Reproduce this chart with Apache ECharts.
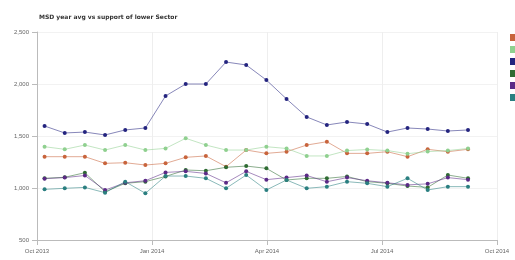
<!DOCTYPE html>
<html>
<head>
<meta charset="utf-8">
<script src="https://cdn.jsdelivr.net/npm/echarts@6/dist/echarts.min.js"></script>
<style>
  html, body { margin: 0; padding: 0; background: #fff; }
  #chart { width: 515px; height: 260px; }
</style>
</head>
<body>
<div id="chart"></div>
<script>
var titleText = 'MSD year avg vs support of lower Sector';
var startDate = '2013-10-01';
var tickLabels = ['Oct 2013', 'Jan 2014', 'Apr 2014', 'Jul 2014', 'Oct 2014'];

var dates = [
  '2013-10-07', '2013-10-23', '2013-11-08', '2013-11-24', '2013-12-10', '2013-12-26',
  '2014-01-11', '2014-01-27', '2014-02-12', '2014-02-28', '2014-03-16', '2014-04-01',
  '2014-04-17', '2014-05-03', '2014-05-19', '2014-06-04', '2014-06-20', '2014-07-06',
  '2014-07-22', '2014-08-07', '2014-08-23', '2014-09-08'
];

var seriesNames = ['Series A', 'Series B', 'Series C', 'Series D', 'Series E', 'Series F'];
var seriesColors = ['#c8643c', '#8fd08f', '#24247f', '#2e6b32', '#5b2a86', '#2a7f80'];

var orangeValues = [1301, 1301, 1301, 1237, 1243, 1221, 1237, 1295, 1308, 1205, 1365, 1333,
  1349, 1413, 1445, 1333, 1333, 1349, 1301, 1372, 1349, 1372];
var greenValues = [1397, 1372, 1413, 1365, 1413, 1365, 1381, 1478, 1413, 1365, 1365, 1397,
  1380, 1308, 1308, 1360, 1370, 1360, 1330, 1350, 1360, 1380];
var navyValues = [1596, 1529, 1538, 1510, 1558, 1577, 1885, 2000, 2000, 2211, 2183, 2038,
  1856, 1683, 1606, 1635, 1615, 1538, 1577, 1567, 1548, 1558];
var darkGreenValues = [1093, 1103, 1147, 964, 1045, 1061, 1111, 1173, 1166, 1199, 1211, 1189,
  1077, 1093, 1093, 1111, 1061, 1045, 1019, 1006, 1125, 1093];
var purpleValues = [1090, 1100, 1120, 980, 1050, 1070, 1150, 1160, 1140, 1050, 1160, 1080,
  1100, 1120, 1060, 1100, 1070, 1050, 1030, 1040, 1100, 1080];
var tealValues = [987, 997, 1006, 955, 1061, 949, 1115, 1115, 1093, 997, 1125, 981,
  1077, 997, 1013, 1061, 1045, 1013, 1093, 981, 1013, 1013];

var allValues = [orangeValues, greenValues, navyValues, darkGreenValues, purpleValues, tealValues];

var DAY = 86400000;
var QUARTER = 365 / 4;
function dayOffset(d) {
  return (Date.parse(d) - Date.parse(startDate)) / DAY;
}

var chart = echarts.init(document.getElementById('chart'));

var series = seriesNames.map(function (name, i) {
  return {
    name: name,
    type: 'line',
    data: dates.map(function (d, j) { return [dayOffset(d), allValues[i][j]]; }),
    symbol: 'circle',
    symbolSize: 4,
    itemStyle: { color: seriesColors[i] },
    lineStyle: { width: 1, opacity: 0.55 },
    emphasis: { disabled: true }
  };
});

chart.setOption({
  animation: false,
  title: {
    text: titleText,
    left: 34,
    top: 9,
    textStyle: { fontSize: 6, fontWeight: 'bold', color: '#333', fontFamily: 'DejaVu Sans' }
  },
  legend: {
    orient: 'vertical',
    left: 505,
    top: 29,
    itemWidth: 7,
    itemHeight: 7,
    itemGap: 5,
    icon: 'rect',
    textStyle: { fontSize: 7, color: '#555' },
    data: seriesNames
  },
  grid: { left: 37, right: 18, top: 32, bottom: 20 },
  xAxis: {
    type: 'value',
    min: 0,
    max: 365,
    interval: QUARTER,
    axisLine: { lineStyle: { color: '#bbb' } },
    axisTick: { lineStyle: { color: '#bbb' } },
    splitLine: { show: true, lineStyle: { color: '#eee' } },
    axisLabel: {
      fontSize: 6,
      color: '#666',
      showMinLabel: true,
      showMaxLabel: true,
      formatter: function (v) {
        return tickLabels[Math.round(v / QUARTER)] || '';
      }
    }
  },
  yAxis: {
    type: 'value',
    min: 500,
    max: 2500,
    interval: 500,
    axisLine: { show: true, lineStyle: { color: '#bbb' } },
    axisTick: { show: true, lineStyle: { color: '#bbb' } },
    splitLine: { show: true, lineStyle: { color: '#f2f2f2' } },
    axisLabel: { fontSize: 6, color: '#666' }
  },
  series: series
});
</script>
</body>
</html>
